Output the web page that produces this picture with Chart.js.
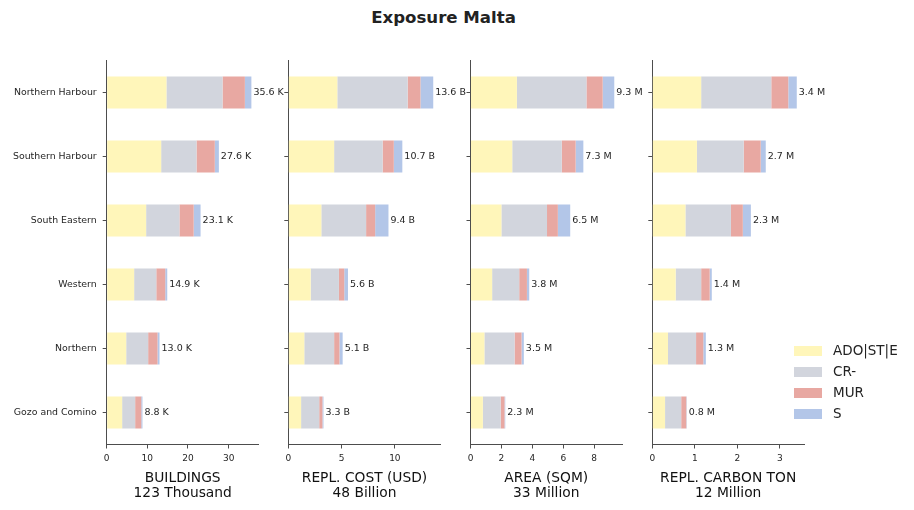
<!DOCTYPE html>
<html>
<head>
<meta charset="utf-8">
<script src="https://cdn.jsdelivr.net/npm/chart.js@4"></script>
<style>
  html, body { margin: 0; padding: 0; background: #fff; }
  #wrap { position: relative; width: 914px; height: 510px; overflow: hidden; font-family: "DejaVu Sans", sans-serif; }
  canvas { position: absolute; left: 0; top: 0; }
  #title { position: absolute; left: 0; width: 887px; top: 8px; text-align: center; font-weight: bold; font-size: 16.6px; color: #222; }
  #legend { position: absolute; left: 794px; top: 341px; font-size: 13.5px; color: #222; }
  .li { height: 21px; line-height: 18px; white-space: nowrap; }
  .sw { display: inline-block; width: 28px; height: 10px; margin-right: 11px; vertical-align: -1px; }
</style>
</head>
<body>
<div id="wrap">
  <div id="title">Exposure Malta</div>
  <canvas id="c1" width="914" height="510"></canvas>
  <canvas id="c2" width="914" height="510"></canvas>
  <canvas id="c3" width="914" height="510"></canvas>
  <canvas id="c4" width="914" height="510"></canvas>
  <div id="legend"></div>
</div>
<script>
const categories = ["Northern Harbour", "Southern Harbour", "South Eastern", "Western", "Northern", "Gozo and Comino"];
const seriesNames = ["ADO|ST|E", "CR-", "MUR", "S"];
const seriesColors = ["#FFF6BA", "#D2D5DD", "#E8A8A2", "#B3C6E8"];

// Buildings (thousands)
const buildingsADO = [14.7, 13.4, 9.7, 6.75, 4.8, 3.8];
const buildingsCR  = [13.8, 8.7, 8.2, 5.45, 5.4, 3.2];
const buildingsMUR = [5.5, 4.5, 3.5, 2.2, 2.3, 1.5];
const buildingsS   = [1.6, 1.0, 1.7, 0.5, 0.5, 0.3];
const buildingsLabels = ["35.6 K", "27.6 K", "23.1 K", "14.9 K", "13.0 K", "8.8 K"];

// Replacement cost (billion USD)
const costADO = [4.6, 4.3, 3.1, 2.1, 1.5, 1.2];
const costCR  = [6.6, 4.55, 4.2, 2.65, 2.8, 1.7];
const costMUR = [1.2, 1.05, 0.85, 0.5, 0.5, 0.3];
const costS   = [1.2, 0.8, 1.25, 0.35, 0.3, 0.1];
const costLabels = ["13.6 B", "10.7 B", "9.4 B", "5.6 B", "5.1 B", "3.3 B"];

// Area (million sqm)
const areaADO = [3.0, 2.7, 2.0, 1.4, 0.9, 0.8];
const areaCR  = [4.5, 3.2, 2.95, 1.75, 1.95, 1.15];
const areaMUR = [1.05, 0.9, 0.7, 0.5, 0.45, 0.25];
const areaS   = [0.75, 0.5, 0.8, 0.15, 0.15, 0.05];
const areaLabels = ["9.3 M", "7.3 M", "6.5 M", "3.8 M", "3.5 M", "2.3 M"];

// Replacement carbon (million ton)
const carbonADO = [1.15, 1.05, 0.78, 0.55, 0.37, 0.30];
const carbonCR  = [1.65, 1.1, 1.07, 0.6, 0.66, 0.38];
const carbonMUR = [0.4, 0.4, 0.28, 0.2, 0.17, 0.12];
const carbonS   = [0.2, 0.12, 0.19, 0.05, 0.06, 0.01];
const carbonLabels = ["3.4 M", "2.7 M", "2.3 M", "1.4 M", "1.3 M", "0.8 M"];

const axisTitles = [["BUILDINGS", "123 Thousand"], ["REPL. COST (USD)", "48 Billion"], ["AREA (SQM)", "33 Million"], ["REPL. CARBON TON", "12 Million"]];
const xMax = [37.4, 14.3, 9.8, 3.57];
const xStep = [10, 5, 2, 1];

const panels = [
  {id: "c1", series: [buildingsADO, buildingsCR, buildingsMUR, buildingsS], labels: buildingsLabels, left: 106.7, right: 258.7, showY: true},
  {id: "c2", series: [costADO, costCR, costMUR, costS], labels: costLabels, left: 288.3, right: 440.7, showY: false},
  {id: "c3", series: [areaADO, areaCR, areaMUR, areaS], labels: areaLabels, left: 470.5, right: 622, showY: false},
  {id: "c4", series: [carbonADO, carbonCR, carbonMUR, carbonS], labels: carbonLabels, left: 652.3, right: 804, showY: false}
];

const FONT = "'DejaVu Sans', sans-serif";
const AXIS = "#4d4d4d";

const valueLabelPlugin = {
  id: "valueLabels",
  afterDatasetsDraw(chart, args, opts) {
    const ctx = chart.ctx;
    const last = chart.getDatasetMeta(chart.data.datasets.length - 1);
    ctx.save();
    ctx.font = "9.5px " + FONT;
    ctx.fillStyle = "#262626";
    ctx.textBaseline = "middle";
    ctx.textAlign = "left";
    last.data.forEach((bar, i) => {
      ctx.fillText(opts.labels[i], bar.x + 2, bar.y + 0.5);
    });
    ctx.restore();
  }
};

panels.forEach((p, k) => {
  const yWidth = p.showY ? p.left : 8;
  new Chart(document.getElementById(p.id), {
    type: "bar",
    data: {
      labels: categories,
      datasets: p.series.map((vals, j) => ({
        label: seriesNames[j],
        data: vals,
        backgroundColor: seriesColors[j],
        borderWidth: 0,
        barPercentage: 0.5,
        categoryPercentage: 1.0
      }))
    },
    options: {
      indexAxis: "y",
      responsive: false,
      animation: false,
      layout: { padding: { left: p.showY ? 0 : p.left - yWidth, right: 914 - p.right, top: 60.5, bottom: 9.5 } },
      plugins: {
        legend: { display: false },
        tooltip: { enabled: false },
        valueLabels: { labels: p.labels }
      },
      scales: {
        x: {
          stacked: true,
          min: 0,
          max: xMax[k],
          afterFit(scale) { scale.height = 56; scale.paddingLeft = 0; scale.paddingRight = 0; },
          border: { display: true, color: AXIS, width: 1 },
          grid: { display: true, drawOnChartArea: false, drawTicks: true, tickLength: 4, color: AXIS },
          ticks: { stepSize: xStep[k], includeBounds: false, font: { family: FONT, size: 9 }, color: "#262626", padding: 5, maxRotation: 0 },
          title: { display: true, text: axisTitles[k], font: { family: FONT, size: 13.8, lineHeight: 15 / 13.8 }, color: "#111", padding: { top: 0, bottom: 0 } }
        },
        y: {
          stacked: true,
          afterFit(scale) { scale.width = yWidth; },
          border: { display: true, color: AXIS, width: 1 },
          grid: { display: true, drawOnChartArea: false, drawTicks: true, tickLength: 4, color: AXIS, offset: false },
          ticks: { display: p.showY, font: { family: FONT, size: 9.4 }, color: "#262626", padding: 6 }
        }
      }
    },
    plugins: [valueLabelPlugin]
  });
});

const legend = document.getElementById("legend");
seriesNames.forEach((n, j) => {
  const d = document.createElement("div");
  d.className = "li";
  d.innerHTML = '<span class="sw" style="background:' + seriesColors[j] + '"></span>' + n;
  legend.appendChild(d);
});
</script>
</body>
</html>
